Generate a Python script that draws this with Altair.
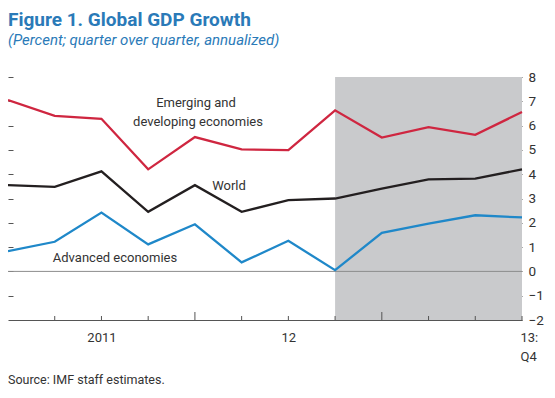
import altair as alt
import pandas as pd

# ---- data ----
quarters = ["2011Q1", "2011Q2", "2011Q3", "2011Q4",
            "2012Q1", "2012Q2", "2012Q3", "2012Q4",
            "2013Q1", "2013Q2", "2013Q3", "2013Q4"]
emerging = [7.05, 6.40, 6.28, 4.20, 5.53, 5.02, 4.99, 6.63, 5.51, 5.94, 5.62, 6.56]
world = [3.55, 3.48, 4.12, 2.45, 3.55, 2.45, 2.93, 3.00, 3.41, 3.79, 3.82, 4.20]
advanced = [0.83, 1.22, 2.42, 1.11, 1.94, 0.37, 1.26, 0.05, 1.59, 1.97, 2.31, 2.22]

series_names = ["Emerging and developing economies", "World", "Advanced economies"]
series_colors = ["#cf2640", "#231f20", "#1f88c9"]

y_ticks = [-2, -1, 0, 1, 2, 3, 4, 5, 6, 7, 8]
left_ticks = [-1, 0, 1, 2, 3, 4, 5, 6, 7, 8]
x_label_quarters = ["2011Q3", "2012Q3", "2013Q4"]
x_labels = ["2011", "12", "13:|Q4"]
minor_tick_quarters = ["2011Q2", "2011Q3", "2011Q4", "2012Q2", "2012Q3",
                       "2012Q4", "2013Q2", "2013Q3", "2013Q4"]
major_tick_quarters = ["2012Q1", "2013Q1"]
projection_span = ["2012Q4", "2013Q4"]
zero_line = [0]

title_text = "Figure 1. Global GDP Growth"
subtitle_text = "(Percent; quarter over quarter, annualized)"
source_text = "Source: IMF staff estimates."

# ---- tables ----
idx = {q: i for i, q in enumerate(quarters)}
rows = []
for name, vals in zip(series_names, [emerging, world, advanced]):
    for q, v in zip(quarters, vals):
        rows.append({"q": idx[q], "series": name, "value": v})
df = pd.DataFrame(rows)

shade_df = pd.DataFrame({"start": [idx[projection_span[0]]], "end": [idx[projection_span[1]]]})
minor_df = pd.DataFrame({"q": [idx[q] for q in minor_tick_quarters]})
major_df = pd.DataFrame({"q": [idx[q] for q in major_tick_quarters]})
zero_df = pd.DataFrame({"v": zero_line})

W, H = 514, 243
FONT = "Roboto"
TXT = "#333333"

xscale = alt.Scale(domain=[0, len(quarters) - 1], nice=False, zero=False)
yscale = alt.Scale(domain=[y_ticks[0], y_ticks[-1]], nice=False, zero=False)

label_vals = [idx[q] for q in x_label_quarters]
expr_parts = []
for v, lab in zip(label_vals, x_labels):
    parts = lab.split("|")
    if len(parts) > 1:
        txt_ = "[" + ", ".join("'%s'" % p for p in parts) + "]"
    else:
        txt_ = "'%s'" % lab
    expr_parts.append("datum.value == %d ? %s" % (v, txt_))
label_expr = " : ".join(expr_parts) + " : ''"
last_q = len(quarters) - 1

x_axis = alt.Axis(orient="bottom", values=label_vals, labelExpr=label_expr,
                  ticks=False, tickSize=0, grid=False, domain=True,
                  domainColor="#555555", domainWidth=1.2, title=None,
                  labelFont=FONT, labelFontSize=13, labelColor=TXT,
                  labelPadding=11, labelFlush=False, labelOverlap=False,
                  labelLineHeight=19, labelBaseline="top",
                  labelAlign={"condition": {"test": "datum.value == %d" % last_q, "value": "left"},
                              "value": "center"},
                  labelOffset={"condition": {"test": "datum.value == %d" % last_q, "value": -2},
                               "value": 0})

y_right = alt.Axis(orient="right", values=y_ticks, offset=-5, tickSize=5,
                   tickColor="#555555", labelPadding=6, domain=False, grid=False,
                   title=None, labelFont=FONT, labelFontSize=13.5, labelColor=TXT,
                   labelOverlap=False, labelFlush=False)

y_left = alt.Axis(orient="left", values=left_ticks, offset=-5, tickSize=5,
                  tickColor="#555555", labels=False, domain=False, grid=False,
                  title=None)

shade = alt.Chart(shade_df).mark_rect(color="#c9cacc").encode(
    x=alt.X("start:Q", scale=xscale, axis=None),
    x2="end:Q",
    y=alt.value(0),
    y2=alt.value(H),
)

zero = alt.Chart(zero_df).mark_rule(color="#8c8c8c", strokeWidth=1).encode(
    y=alt.Y("v:Q", scale=yscale, axis=y_left),
)

minor = alt.Chart(minor_df).mark_rule(color="#555555", strokeWidth=1).encode(
    x=alt.X("q:Q", scale=xscale, axis=None),
    y=alt.value(H),
    y2=alt.value(H - 4),
)
major = alt.Chart(major_df).mark_rule(color="#555555", strokeWidth=1).encode(
    x=alt.X("q:Q", scale=xscale, axis=None),
    y=alt.value(H),
    y2=alt.value(H - 8),
)

lines = alt.Chart(df).mark_line(strokeWidth=2.3).encode(
    x=alt.X("q:Q", scale=xscale, axis=x_axis),
    y=alt.Y("value:Q", scale=yscale, axis=y_right),
    color=alt.Color("series:N", scale=alt.Scale(domain=series_names, range=series_colors), legend=None),
    detail="series:N",
)


def txt(t, x, y, size=13, align="center", baseline="middle", color=TXT, weight="normal", style="normal"):
    return alt.Chart(pd.DataFrame({"t": [t]})).mark_text(
        font=FONT, fontSize=size, align=align, baseline=baseline, color=color,
        fontWeight=weight, fontStyle=style,
    ).encode(text="t:N", x=alt.value(x), y=alt.value(y))


labels = [
    txt("Emerging and", 188, 26),
    txt("developing economies", 190, 45),
    txt("World", 221, 109),
    txt("Advanced economies", 107, 181),
    txt(title_text, 0, -51, size=19, align="left", baseline="alphabetic", color="#2a7ab8", weight="bold"),
    txt(subtitle_text, 0, -32, size=15, align="left", baseline="alphabetic", color="#2a7ab8", style="italic"),
    txt(source_text, 0, 307, size=12.5, align="left", baseline="alphabetic"),
]

chart = alt.layer(shade, zero, minor, major, lines, *labels).resolve_axis(
    x="independent", y="independent"
).properties(
    width=W, height=H,
    autosize=alt.AutoSizeParams(type="none"),
    padding={"left": 0, "top": 69, "right": 25, "bottom": 70},
    background="white",
).configure_view(stroke=None)

chart.save("out.html", embed_options={"renderer": "svg", "actions": False})
